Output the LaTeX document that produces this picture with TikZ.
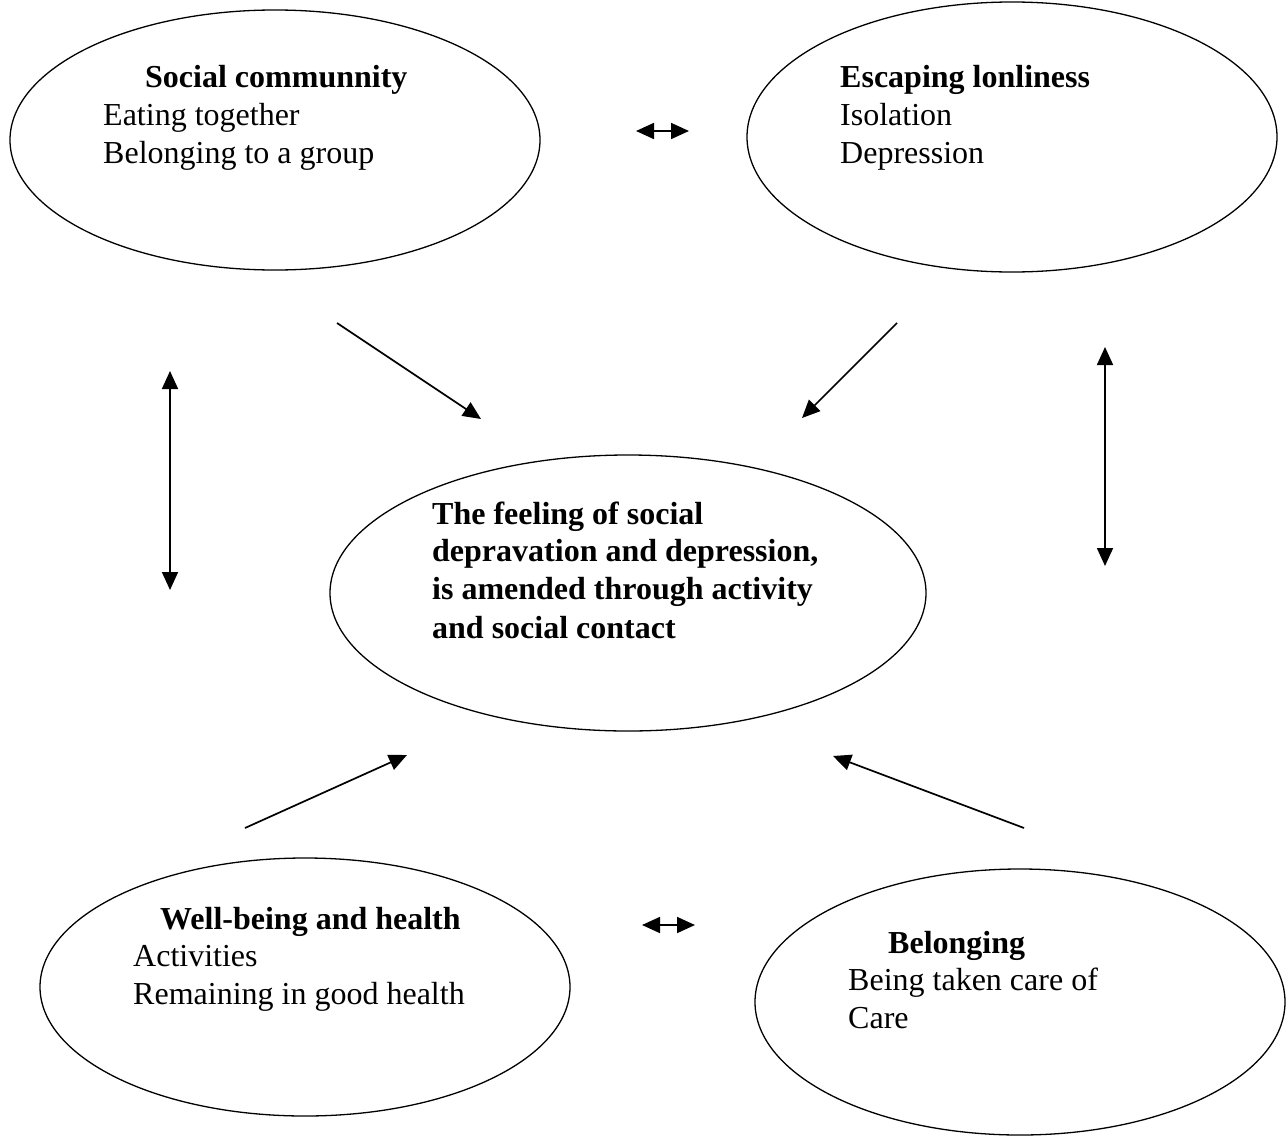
\documentclass[tikz,border=0pt]{standalone}
\usepackage{fontspec}
\setmainfont{Liberation Serif}
\usetikzlibrary{arrows.meta}
\begin{document}
\begin{tikzpicture}[x=1pt,y=-1pt,
  oval/.style={draw,line width=1.3pt},
  conn/.style={line width=1.7pt,-{Triangle[length=18pt,width=16pt]}},
  bconn/.style={line width=1.7pt,{Triangle[length=18pt,width=16pt]}-{Triangle[length=18pt,width=16pt]}},
  txt/.style={anchor=base west,inner sep=0pt,font=\fontsize{32}{38}\selectfont},
  btxt/.style={anchor=base west,inner sep=0pt,font=\fontsize{32}{38}\selectfont\bfseries,align=left}]
\useasboundingbox (0,0) rectangle (1287,1135);
% ellipses
\draw[oval] (275,140) ellipse [x radius=265, y radius=130];
\draw[oval] (1012,137) ellipse [x radius=265, y radius=135];
\draw[oval] (628,593) ellipse [x radius=298, y radius=138];
\draw[oval] (305,987) ellipse [x radius=265, y radius=129];
\draw[oval] (1020,1002) ellipse [x radius=265, y radius=133];
% texts
\node[btxt] (t1) at (145,87) {Social communnity};
\node[txt] (t1a) at (103,125) {Eating together};
\node[txt] (t1b) at (103,163) {Belonging to a group};
\node[btxt] (t2) at (840,87) {Escaping lonliness};
\node[txt] (t2a) at (840,125) {Isolation};
\node[txt] (t2b) at (840,163) {Depression};
\node[btxt] (t3a) at (432,524) {The feeling of social};
\node[btxt] (t3b) at (432,561) {depravation and depression,};
\node[btxt] (t3c) at (432,599) {is amended through activity};
\node[btxt] (t3d) at (432,638) {and social contact};
\node[btxt] (t4) at (160,929) {Well-being and health};
\node[txt] (t4a) at (133,966) {Activities};
\node[txt] (t4b) at (133,1004) {Remaining in good health};
\node[btxt] (t5) at (888,953) {Belonging};
\node[txt] (t5a) at (848,990) {Being taken care of};
\node[txt] (t5b) at (848,1028) {Care};
% connector endpoints
\coordinate (a1) at (636,131); \coordinate (a2) at (689,131);
\coordinate (b1) at (642,925); \coordinate (b2) at (695,925);
\coordinate (c1) at (170,371); \coordinate (c2) at (170,590);
\coordinate (d1) at (1105,347); \coordinate (d2) at (1105,566);
\coordinate (e1) at (337,323); \coordinate (e2) at (481,419);
\coordinate (f1) at (897,323); \coordinate (f2) at (802,418);
\coordinate (g1) at (245,828); \coordinate (g2) at (407,755);
\coordinate (h1) at (1024,828); \coordinate (h2) at (833,756);
\draw[bconn] (a1) -- (a2);
\draw[bconn] (b1) -- (b2);
\draw[bconn] (c1) -- (c2);
\draw[bconn] (d1) -- (d2);
\draw[conn] (e1) -- (e2);
\draw[conn] (f1) -- (f2);
\draw[conn] (g1) -- (g2);
\draw[conn] (h1) -- (h2);
\end{tikzpicture}
\end{document}
